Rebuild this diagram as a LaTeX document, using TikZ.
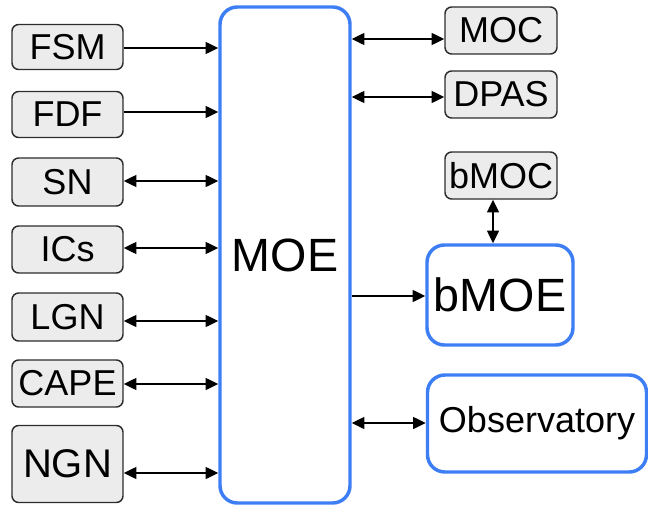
\documentclass[tikz,border=0pt]{standalone}
\usepackage{fontspec}
\setmainfont{Liberation Sans}
\usetikzlibrary{arrows.meta}
\definecolor{moeblue}{RGB}{62,126,245}
\definecolor{tagfill}{RGB}{236,236,236}
\definecolor{tagline}{RGB}{45,45,45}
\tikzset{
  tagbox/.style={draw=tagline, fill=tagfill, line width=1.1pt, rounded corners=5pt,
    inner sep=0pt, font=\fontsize{27}{27}\selectfont},
  bluebox/.style={draw=moeblue, fill=white, line width=2.6pt, rounded corners=13pt, inner sep=0pt},
  link/.style={line width=1pt, -{Triangle[length=9.5pt,width=9pt]}},
  both/.style={line width=1pt, {Triangle[length=9.5pt,width=9pt]}-{Triangle[length=9.5pt,width=9pt]}}
}
\begin{document}
\begin{tikzpicture}[x=0.75pt,y=-0.75pt]
\useasboundingbox (0,0) rectangle (648,506);

% central block
\node[bluebox, minimum width=130*0.75pt, minimum height=496*0.75pt] (moe) at (285,255)
  {\fontsize{35}{35}\selectfont MOE};

% left column of sources
\node[tagbox, minimum width=111*0.75pt, minimum height=45*0.75pt] (fsm) at (67.5,47) {FSM};
\node[tagbox, minimum width=111*0.75pt, minimum height=46*0.75pt] (fdf) at (67.5,114.5) {FDF};
\node[tagbox, minimum width=111*0.75pt, minimum height=48*0.75pt] (sn) at (67.5,182) {SN};
\node[tagbox, minimum width=111*0.75pt, minimum height=47*0.75pt] (ics) at (67.5,249.5) {ICs};
\node[tagbox, minimum width=111*0.75pt, minimum height=48*0.75pt] (lgn) at (67.5,317) {LGN};
\node[tagbox, minimum width=111*0.75pt, minimum height=47*0.75pt] (cape) at (67.5,383.5) {CAPE};
\node[tagbox, minimum width=111*0.75pt, minimum height=77*0.75pt, font=\fontsize{30}{30}\selectfont] (ngn) at (67.5,464) {NGN};

% right column
\node[tagbox, minimum width=112*0.75pt, minimum height=47*0.75pt] (moc) at (501,30.5) {MOC};
\node[tagbox, minimum width=112*0.75pt, minimum height=47*0.75pt] (dpas) at (501,94.5) {DPAS};
\node[tagbox, minimum width=112*0.75pt, minimum height=47*0.75pt] (bmoc) at (501,175.5) {bMOC};
\node[bluebox, minimum width=146*0.75pt, minimum height=100*0.75pt] (bmoe) at (500,295)
  {\fontsize{35}{35}\selectfont bMOE};
\node[bluebox, minimum width=219*0.75pt, minimum height=97*0.75pt] (obs) at (537,423.5)
  {\fontsize{27}{27}\selectfont Observatory};

% connectors on the left
\draw[link] (fsm.east |- 0,48) -- (moe.west |- 0,48);
\draw[link] (fdf.east |- 0,112) -- (moe.west |- 0,112);
\draw[both] (sn.east |- 0,181) -- (moe.west |- 0,181);
\draw[both] (ics.east |- 0,248) -- (moe.west |- 0,248);
\draw[both] (lgn.east |- 0,321) -- (moe.west |- 0,321);
\draw[both] (cape.east |- 0,384) -- (moe.west |- 0,384);
\draw[both] (ngn.east |- 0,473) -- (moe.west |- 0,473);

% connectors on the right
\draw[both] (moe.east |- 0,39) -- (moc.west |- 0,39);
\draw[both] (moe.east |- 0,97) -- (dpas.west |- 0,97);
\draw[link] (moe.east |- 0,296) -- (bmoe.west |- 0,296);
\draw[both] (moe.east |- 0,423) -- (obs.west |- 0,423);
\draw[both] (bmoc.south -| 493,0) -- (bmoe.north -| 493,0);
\end{tikzpicture}
\end{document}
